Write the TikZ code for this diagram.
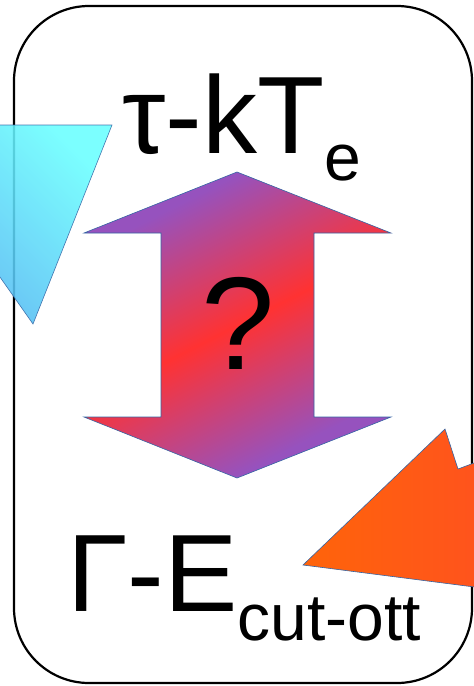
\documentclass[tikz,border=0pt]{standalone}
\usepackage{fontspec}
\setmainfont{Liberation Sans}
\definecolor{arrowpurple}{RGB}{150,82,190}
\definecolor{arrowred}{RGB}{255,50,50}
\definecolor{edgeblue}{RGB}{52,101,164}
\definecolor{skycyan}{RGB}{105,255,255}
\definecolor{skyblue}{RGB}{80,170,240}
\definecolor{flameorange}{RGB}{255,100,10}
\definecolor{flamered}{RGB}{255,82,30}
\pgfdeclareverticalshading{arrowshade}{100bp}{color(0bp)=(arrowpurple); color(28bp)=(arrowpurple); color(50bp)=(arrowred); color(72bp)=(arrowpurple); color(100bp)=(arrowpurple)}
\tikzset{
	outline/.style={draw=edgeblue, line width=0.6pt, line join=miter},
	biglabel/.style={inner sep=0pt, anchor=base west, font=\fontsize{110}{110}\selectfont},
}

\begin{document}
\begin{tikzpicture}[x=1pt, y=-1pt]
	\useasboundingbox (0,0) rectangle (474,686);
	\clip (0,0) rectangle (474,686);
	% Frame and shapes:
	\draw[line width=2.2pt, rounded corners=75pt] (14,6) rectangle (472,683);
	\shadedraw[outline, top color=skycyan, bottom color=skyblue, shading angle=-45, opacity=0.88] (-107,125) -- (112,125) -- (33,324) -- cycle;
	\shadedraw[outline, left color=flameorange, right color=flamered] (303,565) -- (445,429) -- (458,469) -- (490,457) -- (490,589) -- cycle;
	\shadedraw[outline, shading=arrowshade, shading angle=27] (237,172) -- (391,233) -- (314,233) -- (314,417) -- (391,417) -- (237,478) -- (84,417) -- (161,417) -- (161,233) -- (84,233) -- cycle;
	% Labels:
	\node[biglabel] (tauKT) at (122,153) {τ-kT\raisebox{-27pt}{\fontsize{66}{66}\selectfont e}};
	\node[biglabel] (gammaE) at (67,611) {Γ-E\raisebox{-29pt}{\fontsize{66}{66}\selectfont cut-ott}};
	\node[inner sep=0pt, anchor=base, font=\fontsize{132}{132}\selectfont] (query) at (238,369) {?};
\end{tikzpicture}
\end{document}
